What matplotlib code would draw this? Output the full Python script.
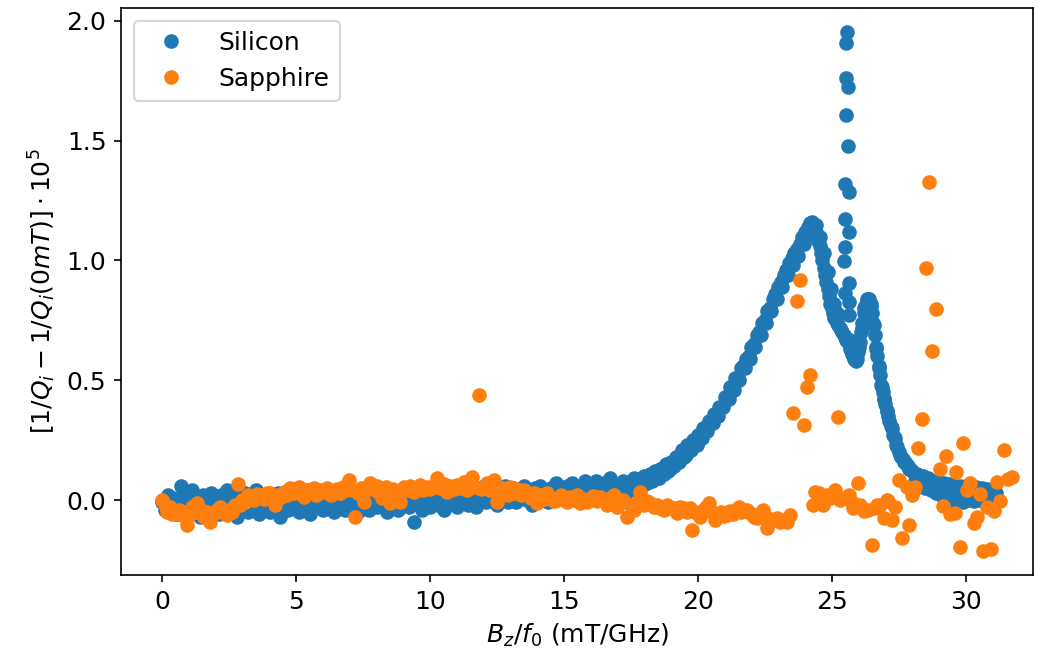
import matplotlib
matplotlib.use("Agg")
import matplotlib.pyplot as plt

# ---- Silicon: flat baseline, broad peak, spike and shoulder, tail ----
si_base_x = [
    0.0, 0.1, 0.2, 0.3, 0.4, 0.5, 0.6, 0.7, 0.8, 0.9,
    1.0, 1.1, 1.2, 1.3, 1.4, 1.5, 1.6, 1.7, 1.8, 1.9,
    2.0, 2.1, 2.2, 2.3, 2.4, 2.5, 2.6, 2.7, 2.8, 2.9,
    3.0, 3.1, 3.2, 3.3, 3.4, 3.5, 3.6, 3.7, 3.8, 3.9,
    4.0, 4.1, 4.2, 4.3, 4.4, 4.5, 4.6, 4.7, 4.8, 4.9,
    5.0, 5.1, 5.2, 5.3, 5.4, 5.5, 5.6, 5.7, 5.8, 5.9,
    6.0, 6.1, 6.2, 6.3, 6.4, 6.5, 6.6, 6.7, 6.8, 6.9,
    7.0, 7.1, 7.2, 7.3, 7.4, 7.5, 7.6, 7.7, 7.8, 7.9,
    8.0, 8.1, 8.2, 8.3, 8.4, 8.5, 8.6, 8.7, 8.8, 8.9,
    9.0, 9.1, 9.2, 9.3, 9.4, 9.5, 9.6, 9.7, 9.8, 9.9,
    10.0, 10.1, 10.2, 10.3, 10.4, 10.5, 10.6, 10.7, 10.8, 10.9,
    11.0, 11.1, 11.2, 11.3, 11.4, 11.5, 11.6, 11.7, 11.8, 11.9,
    12.0, 12.1, 12.2, 12.3, 12.4, 12.5, 12.6, 12.7, 12.8, 12.9,
    13.0, 13.1, 13.2, 13.3, 13.4, 13.5, 13.6, 13.7, 13.8, 13.9,
    14.0, 14.1, 14.2, 14.3, 14.4, 14.5, 14.6, 14.7, 14.8, 14.9,
    15.0, 15.1, 15.2, 15.3, 15.4, 15.5, 15.6, 15.7, 15.8, 15.9,
    16.0, 16.1, 16.2, 16.3, 16.4, 16.5, 16.6, 16.7, 16.8, 16.9,
    17.0,
]
si_base_y = [
    -0.01, -0.04, 0.02, -0.03, 0.01, -0.06, 0.00, 0.06, 0.03, -0.05,
    -0.02, 0.04, -0.04, 0.01, -0.07, 0.02, -0.01, -0.05, 0.03, -0.03,
    0.00, -0.06, 0.02, -0.02, 0.04, -0.04, -0.01, 0.01, -0.07, 0.02,
    -0.03, 0.03, -0.05, 0.00, -0.02, 0.04, -0.06, 0.01, -0.03, 0.02,
    -0.05, 0.01, -0.02, 0.03, -0.07, -0.01, 0.02, -0.04, 0.00, -0.03,
    0.03, -0.05, 0.01, -0.02, 0.04, -0.06, 0.00, -0.03, 0.02, -0.01,
    -0.04, 0.03, -0.02, 0.01, -0.05, 0.04, -0.01, 0.02, -0.04, 0.00,
    0.03, -0.03, 0.01, -0.05, 0.04, -0.02, 0.02, -0.04, 0.00, 0.03,
    -0.03, 0.02, -0.01, 0.04, -0.05, 0.01, -0.02, 0.03, -0.04, 0.02,
    -0.01, 0.04, -0.03, 0.02, -0.09, 0.00, 0.03, -0.04, 0.01, 0.04,
    -0.03, 0.02, 0.05, -0.02, 0.03, -0.04, 0.01, 0.04, -0.01, 0.02,
    -0.03, 0.05, 0.00, 0.03, -0.02, 0.04, 0.01, -0.03, 0.05, 0.02,
    0.06, -0.01, 0.03, 0.00, 0.05, -0.02, 0.04, 0.01, 0.06, -0.01,
    0.03, 0.05, -0.01, 0.04, 0.01, 0.06, 0.00, 0.03, -0.02, 0.05,
    0.02, 0.06, 0.00, 0.04, -0.01, 0.05, 0.02, 0.07, 0.01, 0.04,
    0.00, 0.06, 0.03, 0.07, 0.01, 0.05, -0.01, 0.04, 0.08, 0.02,
    0.06, 0.02, 0.08, 0.04, 0.00, 0.07, 0.03, 0.09, 0.05, 0.01,
    0.06,
]

si_rise_x = [
    17.1, 17.2, 17.3, 17.4, 17.5, 17.6, 17.7, 17.8, 17.9,
    18.0, 18.1, 18.2, 18.3, 18.4, 18.5, 18.6, 18.7, 18.8, 18.9,
    19.0, 19.1, 19.2, 19.3, 19.4, 19.5, 19.6, 19.7, 19.8, 19.9,
    20.0, 20.1, 20.2, 20.3, 20.4, 20.5, 20.6, 20.7, 20.8, 20.9,
    21.0, 21.1, 21.2, 21.3, 21.4, 21.5, 21.6, 21.7, 21.8, 21.9,
    22.0, 22.1, 22.2, 22.3, 22.4, 22.5, 22.6, 22.7, 22.8, 22.9,
    23.0, 23.1, 23.2, 23.3, 23.4, 23.5, 23.6, 23.7, 23.8, 23.9,
    24.0, 24.1, 24.2,
]
si_rise_y = [
    0.04, 0.08, 0.03, 0.07, 0.05, 0.09, 0.04, 0.08, 0.06,
    0.10, 0.07, 0.11, 0.08, 0.12, 0.09, 0.13, 0.11, 0.15, 0.12,
    0.16, 0.14, 0.18, 0.16, 0.21, 0.18, 0.23, 0.21, 0.25, 0.23,
    0.27, 0.26, 0.30, 0.29, 0.33, 0.32, 0.36, 0.36, 0.39, 0.39,
    0.43, 0.43, 0.47, 0.47, 0.51, 0.51, 0.55, 0.56, 0.59, 0.60,
    0.64, 0.65, 0.69, 0.70, 0.74, 0.75, 0.79, 0.80, 0.84, 0.86,
    0.89, 0.91, 0.94, 0.96, 0.99, 1.01, 1.03, 1.05, 1.07, 1.10,
    1.12, 1.14, 1.155,
]
# lower-right edge of the rising band
si_rise2_x = [
    18.55, 18.75, 18.95, 19.15, 19.35, 19.55, 19.75, 19.95, 20.15, 20.35,
    20.55, 20.75, 20.95, 21.15, 21.35, 21.55, 21.75, 21.95, 22.15, 22.35,
    22.55, 22.75, 22.95, 23.15, 23.35, 23.55, 23.75, 23.95, 24.15,
]
si_rise2_y = [
    0.09, 0.11, 0.13, 0.15, 0.17, 0.19, 0.21, 0.23, 0.26, 0.29,
    0.32, 0.35, 0.39, 0.42, 0.46, 0.50, 0.55, 0.59, 0.64, 0.69,
    0.74, 0.79, 0.84, 0.89, 0.94, 0.98, 1.02, 1.07, 1.11,
]

si_fall_x = [
    24.3, 24.4, 24.5, 24.6, 24.7, 24.8, 24.9, 25.0, 25.1, 25.2,
    25.3, 25.4, 25.5, 25.6, 25.7, 25.8, 25.85, 25.9, 25.95, 26.0,
    26.05, 26.1, 26.15, 26.2, 26.25, 26.3, 26.35, 26.4, 26.45, 26.5,
    26.55, 26.6, 26.65, 26.7, 26.75, 26.8, 26.85, 26.9, 26.95, 27.0,
    27.05, 27.1, 27.15, 27.2, 27.3, 27.4, 27.5, 27.6, 27.7, 27.8,
    27.9, 28.0,
]
si_fall_y = [
    1.15, 1.12, 1.08, 1.03, 0.97, 0.91, 0.85, 0.80, 0.76, 0.74,
    0.72, 0.70, 0.68, 0.66, 0.63, 0.60, 0.59, 0.58, 0.59, 0.62,
    0.66, 0.70, 0.74, 0.78, 0.81, 0.83, 0.84, 0.84, 0.82, 0.78,
    0.74, 0.69, 0.64, 0.60, 0.56, 0.52, 0.48, 0.45, 0.42, 0.40,
    0.37, 0.35, 0.33, 0.31, 0.27, 0.23, 0.20, 0.18, 0.16, 0.145,
    0.13, 0.12,
]
# extra points that fill out the two falling flanks
si_fall2_x = [
    24.25, 24.35, 24.45, 24.55, 24.65, 24.75, 24.85, 24.95, 25.05, 25.15,
    25.25, 25.35, 25.45, 25.55, 25.65, 25.75,
    24.42, 24.58, 24.72, 24.86, 24.98, 25.10, 25.20,
    26.02, 26.12, 26.22, 26.32,
    26.47, 26.57, 26.67, 26.77, 26.87, 26.97, 27.07, 27.25, 27.35, 27.45,
    27.55, 27.65, 27.75, 27.85, 27.95,
]
si_fall2_y = [
    1.16, 1.14, 1.10, 1.06, 1.00, 0.94, 0.88, 0.82, 0.78, 0.75,
    0.73, 0.71, 0.69, 0.67, 0.65, 0.61,
    1.15, 1.10, 1.03, 0.95, 0.88, 0.82, 0.78,
    0.64, 0.72, 0.80, 0.84,
    0.81, 0.73, 0.63, 0.55, 0.47, 0.42, 0.37, 0.30, 0.26, 0.22,
    0.19, 0.17, 0.16, 0.14, 0.125,
]

si_tail_x = [
    28.1, 28.2, 28.3, 28.4, 28.5, 28.6, 28.65, 28.7, 28.8, 28.9,
    28.95, 29.0, 29.1, 29.2, 29.25, 29.3, 29.4, 29.5, 29.55, 29.6,
    29.7, 29.8, 29.85, 29.9, 30.0, 30.1, 30.15, 30.2, 30.3, 30.4,
    30.45, 30.5, 30.6, 30.7, 30.75, 30.8, 30.9, 31.0, 31.1, 31.15,
]
si_tail_y = [
    0.08, 0.11, 0.07, 0.10, 0.05, 0.09, 0.065, 0.04, 0.08, 0.03,
    0.05, 0.075, 0.02, 0.07, 0.04, 0.01, 0.065, 0.00, 0.03, 0.06,
    -0.005, 0.06, 0.025, -0.01, 0.06, 0.00, 0.03, 0.055, -0.005, 0.055,
    0.025, 0.00, 0.05, 0.01, 0.03, 0.045, 0.015, 0.04, 0.02, 0.03,
]

si_spike_x = [25.57, 25.54, 25.53, 25.60, 25.53, 25.60, 25.50, 25.63, 25.50,
              25.63, 25.48, 25.46, 25.65, 25.50, 25.65, 25.63, 25.69, 25.75]
si_spike_y = [1.953, 1.907, 1.763, 1.726, 1.606, 1.478, 1.318, 1.285, 1.172,
              1.118, 1.058, 0.999, 0.905, 0.863, 0.828, 0.772, 0.67, 0.62]

# ---- Sapphire ----
sa_x = [
    0.00, 0.08, 0.17, 0.28, 0.37, 0.49, 0.60, 0.73, 0.82, 0.92,
    1.02, 1.11, 1.20, 1.30, 1.42, 1.54, 1.66, 1.79, 1.90, 2.04,
    2.15, 2.28, 2.41, 2.50, 2.60, 2.70, 2.81, 2.90, 2.98, 3.10,
    3.20, 3.29, 3.40, 3.52, 3.66, 3.78, 3.90, 4.03, 4.12, 4.22,
    4.32, 4.41, 4.55, 4.66, 4.78, 4.90, 5.00, 5.09, 5.18, 5.28,
    5.40, 5.52, 5.65, 5.75, 5.88, 6.02, 6.15, 6.28, 6.40, 6.52,
    6.62, 6.75, 6.85, 6.96, 7.08, 7.21, 7.30, 7.40, 7.52, 7.62,
    7.77, 7.88, 8.00, 8.10, 8.20, 8.35, 8.45, 8.51, 8.62, 8.75,
    8.89, 9.01, 9.12, 9.25, 9.38, 9.50, 9.63, 9.75, 9.88, 10.00,
    10.13, 10.26, 10.38, 10.50, 10.63, 10.75, 10.88, 11.00, 11.12, 11.25,
    11.38, 11.50, 11.56, 11.68, 11.81, 11.90, 12.00, 12.12, 12.25, 12.37,
    12.50, 12.56, 12.68, 12.80, 12.90, 13.00, 13.12, 13.25, 13.38, 13.49,
    13.62, 13.75, 13.87, 13.99, 14.12, 14.25, 14.37, 14.50, 14.62, 14.74,
    14.87, 15.00, 15.12, 15.24, 15.36, 15.48, 15.61, 15.73, 15.86, 15.98,
    16.10, 16.23, 16.36, 16.48, 16.60, 16.72, 16.85, 16.98, 17.10, 17.22,
    17.35, 17.48, 17.60, 17.72, 17.85, 17.97, 18.10, 18.22, 18.35, 18.48,
    18.60, 18.72, 18.85, 18.97, 19.09, 19.22, 19.35, 19.47, 19.60, 19.72,
    19.78, 19.90, 19.97, 20.09, 20.20, 20.30, 20.40, 20.52, 20.65, 20.75,
    20.88, 20.98, 21.09, 21.20, 21.30, 21.42, 21.52, 21.62, 21.72, 21.83,
    21.95, 22.08, 22.20, 22.30, 22.45, 22.52, 22.58, 22.70, 22.83, 22.95,
    23.08, 23.20, 23.33, 23.45, 23.57, 23.70, 23.82, 23.95, 24.07, 24.20,
    24.32, 24.38, 24.51, 24.60, 24.69, 24.82, 24.95, 25.07, 25.13, 25.22,
    25.32, 25.45, 25.63, 25.75, 25.81, 26.00, 26.05, 26.19, 26.35, 26.50,
    26.62, 26.69, 26.81, 26.94, 27.06, 27.12, 27.25, 27.37, 27.50, 27.62,
    27.81, 27.90, 27.99, 28.06, 28.12, 28.24, 28.38, 28.52, 28.65, 28.76,
    28.90, 29.03, 29.17, 29.28, 29.42, 29.61, 29.65, 29.80, 29.92, 30.05,
    30.17, 30.30, 30.42, 30.55, 30.67, 30.80, 30.94, 31.07, 31.17, 31.29,
    31.42, 31.60, 31.73,
]
sa_y = [
    0.00, -0.02, -0.05, -0.03, -0.06, -0.056, -0.04, -0.063, -0.05, -0.104,
    -0.06, -0.028, -0.05, -0.014, -0.04, -0.07, -0.05, -0.09, -0.06, -0.042,
    -0.03, -0.055, -0.063, -0.04, -0.049, -0.02, 0.067, -0.02, 0.00, -0.01,
    0.02, 0.014, 0.00, 0.025, 0.021, 0.005, 0.03, 0.028, 0.01, -0.021,
    0.02, 0.014, 0.035, 0.02, 0.049, 0.03, 0.045, 0.056, 0.03, 0.014,
    0.04, 0.03, 0.049, 0.02, 0.04, 0.035, 0.05, 0.02, 0.028, 0.045,
    0.03, 0.055, 0.04, 0.084, 0.04, -0.07, 0.03, 0.05, -0.007, 0.04,
    0.07, 0.045, 0.06, 0.03, 0.007, 0.056, 0.04, -0.014, 0.045, 0.03,
    -0.007, 0.056, 0.04, 0.06, 0.035, 0.05, 0.063, 0.04, 0.055, 0.045,
    0.06, 0.09, 0.05, 0.065, 0.035, 0.06, 0.045, 0.063, 0.05, 0.075,
    0.04, 0.06, 0.097, 0.055, 0.438, 0.045, 0.056, 0.07, 0.04, 0.084,
    -0.007, 0.028, 0.05, 0.035, 0.02, 0.056, 0.03, 0.045, 0.02, 0.042,
    0.025, 0.01, 0.03, -0.014, 0.02, 0.005, 0.028, 0.01, -0.005, 0.00,
    0.02, 0.005, -0.01, 0.014, 0.00, 0.02, -0.014, 0.005, -0.01, 0.00,
    0.015, -0.005, 0.014, 0.00, -0.02, 0.01, 0.021, -0.028, -0.01, 0.00,
    -0.07, -0.02, -0.042, -0.01, 0.035, -0.02, -0.005, -0.014, -0.03, -0.02,
    -0.035, -0.042, -0.02, -0.035, -0.035, -0.056, -0.03, -0.035, -0.05, -0.035,
    -0.125, -0.05, -0.056, -0.07, -0.04, -0.03, -0.014, -0.05, -0.084, -0.06,
    -0.05, -0.065, -0.063, -0.045, -0.06, -0.04, -0.028, -0.05, -0.04, -0.042,
    -0.055, -0.07, -0.077, -0.06, -0.042, -0.065, -0.118, -0.08, -0.084, -0.075,
    -0.09, -0.084, -0.09, -0.063, 0.362, 0.832, 0.919, 0.313, 0.473, 0.522,
    -0.021, 0.035, 0.028, -0.01, -0.021, 0.021, 0.01, 0.035, 0.042, 0.348,
    0.00, 0.01, 0.021, -0.01, -0.035, 0.072, -0.02, -0.045, -0.04, -0.188,
    -0.035, -0.021, -0.021, -0.077, 0.00, -0.005, -0.084, -0.03, 0.084, -0.158,
    0.056, -0.104, 0.021, 0.042, 0.056, 0.216, 0.34, 0.967, 1.326, 0.622,
    0.796, 0.128, -0.025, 0.184, -0.06, -0.056, 0.118, -0.195, 0.236, 0.042,
    0.072, -0.097, -0.07, 0.025, -0.212, -0.028, -0.206, -0.045, 0.077, -0.004,
    0.207, 0.086, 0.097,
]

si_x = (si_base_x + si_rise_x + si_rise2_x + si_fall_x + si_fall2_x
        + si_tail_x + si_spike_x)
si_y = (si_base_y + si_rise_y + si_rise2_y + si_fall_y + si_fall2_y
        + si_tail_y + si_spike_y)

plt.rcParams['font.size'] = 12

fig = plt.figure(figsize=(1047 / 150, 668 / 150), dpi=150)
ax = fig.add_axes([121 / 1047, 1 - 575 / 668, (1033 - 121) / 1047, (575 - 8) / 668])

ax.plot(si_x, si_y, 'o', color='C0', label='Silicon')
ax.plot(sa_x, sa_y, 'o', color='C1', label='Sapphire')

ax.set_xlim(-1.55, 32.52)
ax.set_ylim(-0.313, 2.054)
ax.set_xticks([0, 5, 10, 15, 20, 25, 30])
ax.set_yticks([0.0, 0.5, 1.0, 1.5, 2.0])

ax.set_xlabel(r'$B_z/f_0$ (mT/GHz)')
ax.set_ylabel(r'$[1/Q_i - 1/Q_i(0mT)] \cdot 10^5$')
ax.legend(loc='upper left', handlelength=2.2)

fig.savefig('out.png', dpi=150)
